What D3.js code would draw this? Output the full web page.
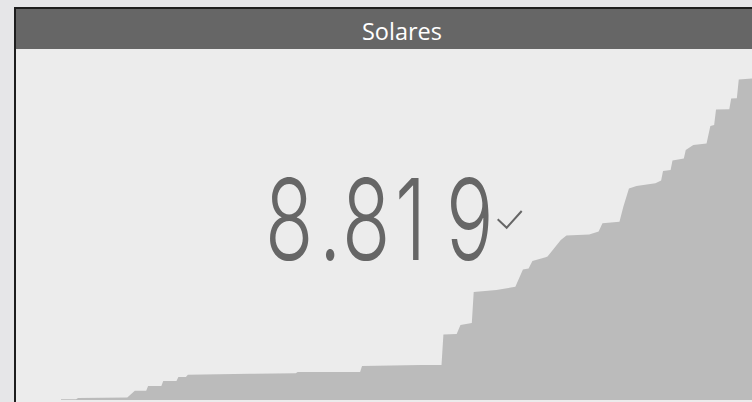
<!DOCTYPE html>
<html>
<head>
<meta charset="utf-8">
<script src="https://cdn.jsdelivr.net/npm/d3@7"></script>
<style>
  html, body { margin: 0; padding: 0; background: #e6e6e8; }
  svg { display: block; }
</style>
</head>
<body>
<svg id="kpi" width="752" height="402"></svg>
<script>
// Card title and headline figure
const titulo = "Solares";
const totalActual = 8819;

// Cumulative installations by day of year
const dias = [0, 8, 9, 35, 39, 45, 46, 53, 54, 61, 62, 66, 67, 100, 124, 125, 158, 159, 190, 201,
  202, 209, 211, 217, 218, 230, 240, 244, 247, 249, 256, 257, 264, 267, 279, 284, 286, 295, 297, 300,
  304, 314, 317, 318, 322, 323, 329, 330, 334, 341, 343, 345, 346, 353, 354, 357, 358, 365];
const acumulado = [20, 20, 55, 69, 255, 255, 384, 384, 521, 521, 631, 631, 694, 721, 732, 768, 768, 933, 960, 960,
  1797, 1810, 2057, 2112, 2962, 3017, 3108, 3580, 3607, 3813, 3914, 3936, 4389, 4512, 4540, 4622, 4847, 4891, 5294, 5801,
  5870, 5944, 6021, 6281, 6309, 6569, 6624, 6858, 6995, 7036, 7516, 7543, 7968, 7974, 8270, 8276, 8792, 8819];

const svg = d3.select("#kpi");

// Card frame
svg.append("rect")
  .attr("x", 15).attr("y", 8)
  .attr("width", 790).attr("height", 420)
  .attr("fill", "#ececec")
  .attr("stroke", "#1e1e1e")
  .attr("stroke-width", 2);

// Header band
svg.append("rect")
  .attr("x", 16).attr("y", 9)
  .attr("width", 790).attr("height", 40)
  .attr("fill", "#666666");

svg.append("text")
  .attr("x", 402).attr("y", 40)
  .attr("text-anchor", "middle")
  .attr("font-family", "'Segoe UI', 'Open Sans', sans-serif")
  .attr("font-size", 23.5)
  .attr("fill", "#ffffff")
  .text(titulo);

// Trend area behind the figure
const x = d3.scaleLinear().domain([0, 365]).range([61, 752]);
const y = d3.scaleLinear().domain([0, d3.max(acumulado)]).range([400, 78.5]);

const puntos = dias.map((d, i) => ({ dia: d, valor: acumulado[i] }));

svg.append("clipPath").attr("id", "contenido")
  .append("rect").attr("x", 17).attr("y", 49).attr("width", 760).attr("height", 351);

svg.append("path")
  .datum(puntos)
  .attr("clip-path", "url(#contenido)")
  .attr("fill", "#bbbbbb")
  .attr("d", d3.area()
    .x(d => x(d.dia))
    .y0(y(0))
    .y1(d => y(d.valor))
    .curve(d3.curveLinear));

// Headline value (es-ES grouping), set in a light condensed style
const formato = d3.formatLocale({ decimal: ",", thousands: ".", grouping: [3], currency: ["", " €"] }).format(",d");
const etiqueta = formato(totalActual);
const escalaX = 0.7;
const origenes = [265, 319, 342, 395, 446];

svg.append("text")
  .attr("transform", `scale(${escalaX},1)`)
  .attr("x", origenes.map(p => (p / escalaX).toFixed(1)).join(" "))
  .attr("y", 260)
  .attr("font-family", "Inter, 'Open Sans', sans-serif")
  .attr("font-weight", 270)
  .attr("font-size", 113)
  .attr("fill", "#666666")
  .text(etiqueta);

// Status tick beside the value
svg.append("path")
  .attr("d", "M497.7,219.3 L506.7,227.7 L521.7,211")
  .attr("fill", "none")
  .attr("stroke", "#666666")
  .attr("stroke-width", 2);
</script>
</body>
</html>
